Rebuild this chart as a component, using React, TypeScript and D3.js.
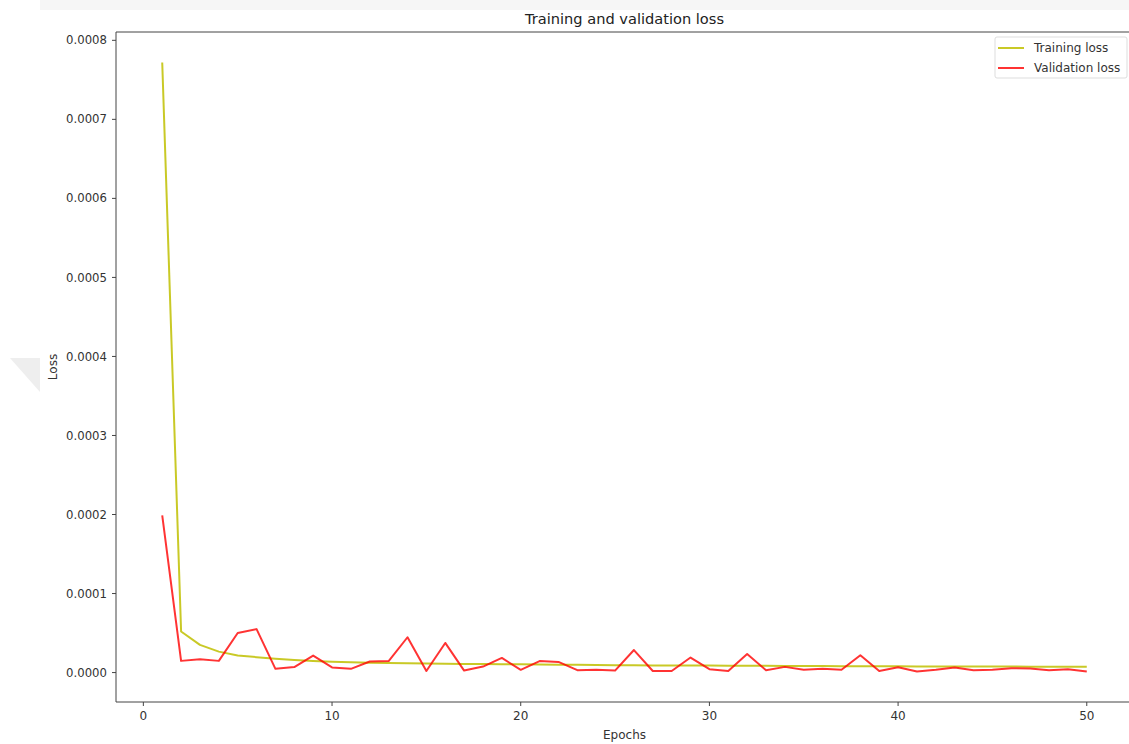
import React from "react";
import * as d3 from "d3";

// epochs 1..50
const epochs = d3.range(1, 51);

// loss values in units of 1e-5
const trainingLoss = [
  77.2, 5.2, 3.5, 2.65, 2.15, 1.95, 1.75, 1.58, 1.45, 1.36,
  1.3, 1.25, 1.21, 1.18, 1.15, 1.12, 1.1, 1.08, 1.06, 1.04,
  1.02, 1.0, 0.98, 0.96, 0.94, 0.92, 0.91, 0.9, 0.89, 0.88,
  0.87, 0.86, 0.85, 0.84, 0.83, 0.82, 0.81, 0.8, 0.8, 0.79,
  0.78, 0.78, 0.77, 0.77, 0.76, 0.76, 0.75, 0.75, 0.74, 0.74,
];
const validationLoss = [
  19.9, 1.48, 1.7, 1.48, 5.0, 5.5, 0.47, 0.7, 2.15, 0.65,
  0.47, 1.4, 1.45, 4.47, 0.2, 3.75, 0.25, 0.76, 1.85, 0.35,
  1.45, 1.35, 0.3, 0.35, 0.25, 2.85, 0.2, 0.2, 1.9, 0.43,
  0.2, 2.35, 0.3, 0.72, 0.35, 0.47, 0.35, 2.2, 0.2, 0.68,
  0.13, 0.35, 0.63, 0.3, 0.35, 0.55, 0.5, 0.3, 0.43, 0.13,
];

const xTicks = [0, 10, 20, 30, 40, 50];
const yTicks = [0, 0.0001, 0.0002, 0.0003, 0.0004, 0.0005, 0.0006, 0.0007, 0.0008];

const series = [
  { name: "Training loss", values: trainingLoss, color: "#bfbf00", opacity: 0.85 },
  { name: "Validation loss", values: validationLoss, color: "#ff0000", opacity: 0.8 },
];

const W = 1129;
const H = 744;
const left = 116;
const right = 1133; // right spine falls just outside the picture
const top = 32;
const bottom = 702;
const font = "'DejaVu Sans', sans-serif";

export default function App() {
  const allVals = series.flatMap((s) => s.values.map((v) => v * 1e-5));
  const yMin = d3.min(allVals)!;
  const yMax = d3.max(allVals)!;
  const yPad = (yMax - yMin) * 0.05;
  const xPad = (50 - 1) * 0.05;

  const x = d3.scaleLinear().domain([1 - xPad, 50 + xPad]).range([left, right]);
  const y = d3.scaleLinear().domain([yMin - yPad, yMax + yPad]).range([bottom, top]);

  const line = d3
    .line<number>()
    .x((_, i) => x(epochs[i]))
    .y((d) => y(d * 1e-5));

  return (
    <svg width={W} height={H} style={{ position: "absolute", left: 0, top: 0, background: "#fff", overflow: "hidden" }}>
      {/* faint screenshot artifacts */}
      <rect x={40} y={0} width={W - 40} height={10} fill="#f6f6f6" />
      <polygon points="10,358 40,358 40,392" fill="#eeeeee" />

      <text x={(left + right) / 2} y={24} textAnchor="middle" fontFamily={font} fontSize={14.6} fill="#222">
        Training and validation loss
      </text>

      <g>
        {series.map((s) => (
          <path
            key={s.name}
            d={line(s.values) ?? ""}
            fill="none"
            stroke={s.color}
            strokeOpacity={s.opacity}
            strokeWidth={2}
            strokeLinejoin="round"
          />
        ))}
      </g>

      {/* spines */}
      <g stroke="#444" strokeWidth={1} fill="none">
        <line x1={left} x2={left} y1={top} y2={bottom} />
        <line x1={left} x2={W} y1={bottom} y2={bottom} />
        <line x1={left} x2={W} y1={top} y2={top} />
      </g>

      {/* x axis */}
      <g fontFamily={font} fontSize={12} fill="#333">
        {xTicks.map((t) => (
          <g key={t} transform={`translate(${x(t)},${bottom})`}>
            <line y1={0} y2={4} stroke="#444" />
            <text y={18} textAnchor="middle">{t}</text>
          </g>
        ))}
        <text x={(left + right) / 2} y={739} textAnchor="middle">Epochs</text>
      </g>

      {/* y axis */}
      <g fontFamily={font} fontSize={11.7} fill="#333">
        {yTicks.map((t) => (
          <g key={t} transform={`translate(${left},${y(t)})`}>
            <line x1={-4} x2={0} stroke="#444" />
            <text x={-9} dy="0.35em" textAnchor="end">{d3.format(".4f")(t)}</text>
          </g>
        ))}
        <text transform={`translate(57,${(top + bottom) / 2}) rotate(-90)`} textAnchor="middle" fontSize={12}>Loss</text>
      </g>

      {/* legend */}
      <g fontFamily={font} fontSize={12} fill="#333">
        <rect x={995} y={37} width={132} height={41} rx={2} fill="#fff" fillOpacity={0.8} stroke="#ddd" />
        {series.map((s, i) => (
          <g key={s.name} transform={`translate(998,${48 + i * 20})`}>
            <line x1={0} x2={26} stroke={s.color} strokeOpacity={s.opacity} strokeWidth={2} />
            <text x={36} dy="0.35em">{s.name}</text>
          </g>
        ))}
      </g>
    </svg>
  );
}
